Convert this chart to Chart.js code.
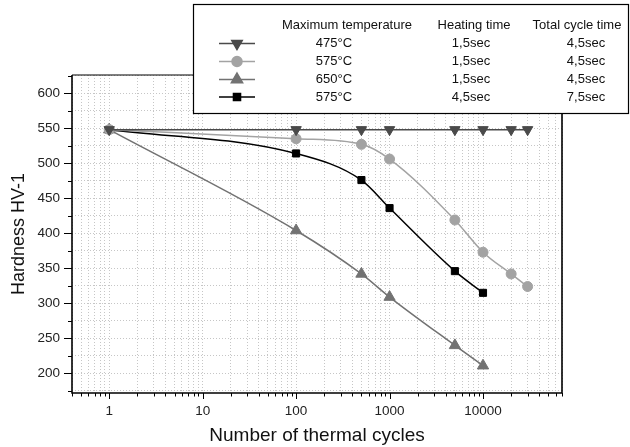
<!DOCTYPE html>
<html><head><meta charset="utf-8">
<script src="https://cdn.jsdelivr.net/npm/chart.js"></script>
<style>html,body{margin:0;padding:0;background:#fff}#wrap{width:630px;height:447px}</style>
</head><body><div id="wrap"><canvas id="c" width="630" height="447"></canvas></div>
<script>
// ---- data ----
const cycles475 = [1, 100, 500, 1000, 5000, 10000, 20000, 30000];
const hard475   = [548, 548, 548, 548, 548, 548, 548, 548];
const cycles575a = [1, 100, 500, 1000, 5000, 10000, 20000, 30000];
const hard575a   = [548, 535, 527, 506, 419, 373, 342, 324];
const cycles650 = [1, 100, 500, 1000, 5000, 10000];
const hard650   = [548, 404, 342, 309, 240, 211];
const cycles575b = [1, 100, 500, 1000, 5000, 10000];
const hard575b   = [548, 514, 476, 436, 346, 315];
const xTickLabels = [1, 10, 100, 1000, 10000];
const yTickLabels = [200, 250, 300, 350, 400, 450, 500, 550, 600];
const legendHeaders = ['Maximum temperature', 'Heating time', 'Total cycle time'];
const legendTemp  = ['475°C', '575°C', '650°C', '575°C'];
const legendHeat  = ['1,5sec', '1,5sec', '1,5sec', '4,5sec'];
const legendTotal = ['4,5sec', '4,5sec', '4,5sec', '7,5sec'];

const FONT = 'Liberation Sans, Arial, Helvetica, sans-serif';
const pts = (xs, ys) => xs.map((x, i) => ({x: x, y: ys[i]}));

function ds(xs, ys, color, style, radius, rotation) {
  return {
    data: pts(xs, ys), borderColor: color, backgroundColor: color,
    pointBackgroundColor: color, pointBorderColor: color,
    pointStyle: style, pointRadius: radius, pointRotation: rotation || 0,
    pointBorderWidth: 1, borderWidth: 1.5,
    cubicInterpolationMode: 'monotone', fill: false
  };
}
const datasets = [
  ds(cycles475, hard475, '#4a4a4a', 'triangle', 6, 180),
  ds(cycles575a, hard575a, '#a3a3a3', 'circle', 5),
  ds(cycles650, hard650, '#727272', 'triangle', 6.5),
  ds(cycles575b, hard575b, '#000000', 'rect', 5)
];

const isPow10 = v => Math.abs(Math.log10(v) - Math.round(Math.log10(v))) < 1e-9;

const framePlugin = {
  id: 'frame',
  afterDraw(chart) {
    const ctx = chart.ctx, a = chart.chartArea;
    const xs = chart.scales.x, ys = chart.scales.y;
    ctx.save();
    ctx.strokeStyle = '#000';
    // ticks
    ctx.lineWidth = 1;
    xs.ticks.forEach(t => {
      const px = Math.round(xs.getPixelForValue(t.value)) + 0.5;
      const len = isPow10(t.value) ? 6 : 3.5;
      ctx.beginPath(); ctx.moveTo(px, a.bottom); ctx.lineTo(px, a.bottom + len); ctx.stroke();
    });
    ys.ticks.forEach(t => {
      const py = Math.round(ys.getPixelForValue(t.value)) + 0.5;
      const len = (t.value % 50 === 0) ? 8 : 4;
      ctx.beginPath(); ctx.moveTo(a.left - len, py); ctx.lineTo(a.left, py); ctx.stroke();
    });
    // frame
    ctx.lineWidth = 1.6;
    ctx.beginPath();
    ctx.moveTo(a.left, a.top); ctx.lineTo(a.left, a.bottom); ctx.lineTo(a.right, a.bottom); ctx.lineTo(a.right, a.top);
    ctx.stroke();
    ctx.lineWidth = 1.2;
    ctx.beginPath(); ctx.moveTo(a.left, a.top); ctx.lineTo(a.right, a.top); ctx.stroke();

    // legend box
    const bx = 193, by = 4, bw = 435, bh = 109;
    ctx.fillStyle = '#fff';
    ctx.fillRect(bx, by, bw, bh);
    ctx.lineWidth = 1.2;
    ctx.strokeRect(bx + 0.5, by + 0.5, bw, bh);
    ctx.fillStyle = '#111';
    ctx.font = '13px ' + FONT;
    ctx.textAlign = 'center';
    ctx.textBaseline = 'middle';
    const colX = [347, 474, 577];
    legendHeaders.forEach((h, i) => ctx.fillText(h, colX[i], 25));
    const rowY = [43.5, 61.5, 79.5, 97];
    const valX = [334, 471, 586];
    chart.data.datasets.forEach((d, i) => {
      const y = rowY[i];
      ctx.strokeStyle = d.borderColor; ctx.lineWidth = 1.5;
      ctx.beginPath(); ctx.moveTo(219, y); ctx.lineTo(255, y); ctx.stroke();
      ctx.fillStyle = d.pointBackgroundColor;
      Chart.helpers.drawPoint(ctx, {pointStyle: d.pointStyle, radius: d.pointRadius, rotation: d.pointRotation, borderWidth: 1}, 237, y);
      ctx.fillStyle = '#111';
      ctx.fillText(legendTemp[i], valX[0], y);
      ctx.fillText(legendHeat[i], valX[1], y);
      ctx.fillText(legendTotal[i], valX[2], y);
    });
    ctx.restore();
  }
};

new Chart(document.getElementById('c'), {
  type: 'line',
  data: {datasets: datasets},
  options: {
    responsive: false, animation: false, devicePixelRatio: 1,
    layout: {padding: {top: 75, right: 68, left: 0, bottom: 0}},
    plugins: {legend: {display: false}, tooltip: {enabled: false}},
    scales: {
      x: {
        type: 'logarithmic', min: 0.4, max: 70000,
        afterBuildTicks: s => {
          const t = [];
          for (let e = -1; e <= 4; e++) for (let m = 1; m <= 9; m++) {
            const v = Number((m * Math.pow(10, e)).toPrecision(3));
            if (v >= 0.4 && v <= 70000) t.push({value: v});
          }
          s.ticks = t;
        },
        afterFit: s => { s.height = 54; },
        ticks: {
          autoSkip: false, maxRotation: 0, minRotation: 0, padding: 10, color: '#222',
          font: {family: FONT, size: 13.5},
          callback: v => (isPow10(v) && xTickLabels.includes(Math.round(v))) ? String(Math.round(v)) : ''
        },
        grid: {color: '#c6c6c6', lineWidth: 1, drawTicks: false},
        border: {display: false, dash: [1, 2]},
        title: {display: true, text: 'Number of thermal cycles', color: '#111',
                font: {family: FONT, size: 19}, padding: {top: 0, bottom: 0}}
      },
      y: {
        min: 172, max: 626,
        afterBuildTicks: s => { const t = []; for (let v = 175; v <= 625; v += 25) t.push({value: v}); s.ticks = t; },
        afterFit: s => { s.width = 72; },
        ticks: {
          autoSkip: false, padding: 12, color: '#222',
          font: {family: FONT, size: 13.5},
          callback: v => yTickLabels.includes(v) ? String(v) : ''
        },
        grid: {color: '#c6c6c6', lineWidth: 1, drawTicks: false},
        border: {display: false, dash: [1, 2]},
        title: {display: true, text: 'Hardness HV-1', color: '#111',
                font: {family: FONT, size: 18}, padding: {top: 8, bottom: 0}}
      }
    }
  },
  plugins: [framePlugin]
});
</script>
</body></html>
